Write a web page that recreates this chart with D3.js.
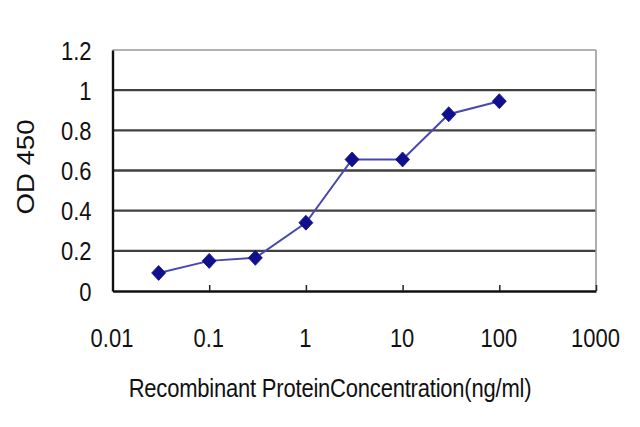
<!DOCTYPE html>
<html><head><meta charset="utf-8">
<script src="https://cdn.jsdelivr.net/npm/d3@7"></script>
<style>body{margin:0;background:#fff}svg{display:block}text{font-family:"Liberation Sans",Arial,sans-serif;fill:#111}</style>
</head><body>
<svg id="c" width="640" height="427"></svg>
<script>
const concentrations = [0.03, 0.1, 0.3, 1, 3, 10, 30, 100];
const odValues = [0.09, 0.15, 0.165, 0.34, 0.655, 0.655, 0.88, 0.945];
const xTickValues = [0.01, 0.1, 1, 10, 100, 1000];
const xTickLabels = ["0.01", "0.1", "1", "10", "100", "1000"];
const yTickValues = [0, 0.2, 0.4, 0.6, 0.8, 1, 1.2];
const yTickLabels = ["0", "0.2", "0.4", "0.6", "0.8", "1", "1.2"];
const xTitle = "Recombinant ProteinConcentration(ng/ml)";
const yTitle = "OD 450";

const svg = d3.select("#c");
const L = 112.5, R = 596, T = 50, B = 291;
const x = d3.scaleLog().domain([0.01, 1000]).range([L, R]);
const y = d3.scaleLinear().domain([0, 1.2]).range([B, T]);
const sy = 1.15, fs = 22;

// gridlines
svg.append("g").selectAll("line").data(yTickValues.filter(v => v > 0))
  .join("line")
  .attr("x1", L).attr("x2", R)
  .attr("y1", d => y(d)).attr("y2", d => y(d))
  .attr("stroke", d => d === 1.2 ? "#9a9a9a" : "#404040")
  .attr("stroke-width", d => d === 1.2 ? 1.6 : 2.4);
// right border
svg.append("line").attr("x1", R).attr("x2", R).attr("y1", T).attr("y2", B)
  .attr("stroke", "#9a9a9a").attr("stroke-width", 1.6);

// x axis
const xa = svg.append("g").attr("transform", `translate(0,${B})`)
  .call(d3.axisBottom(x).tickValues(xTickValues).tickSizeInner(-6).tickSizeOuter(0)
    .tickFormat((d, i) => xTickLabels[i]));
xa.select(".domain").attr("stroke", "#111").attr("stroke-width", 2.4);
xa.selectAll(".tick line").attr("stroke", "#222").attr("stroke-width", 1.5);
xa.selectAll(".tick text").attr("y", 0).attr("dy", 0)
  .attr("font-size", fs).attr("fill", "#111")
  .attr("transform", `translate(-1,56) scale(1,${sy})`)
  .style("font-family", "'Liberation Sans',Arial,sans-serif");

// y axis
const ya = svg.append("g").attr("transform", `translate(${L},0)`)
  .call(d3.axisLeft(y).tickValues(yTickValues).tickSize(0).tickSizeOuter(0)
    .tickFormat((d, i) => yTickLabels[i]));
ya.select(".domain").attr("stroke", "#111").attr("stroke-width", 2.4);
ya.selectAll(".tick text").attr("x", 0).attr("dy", "0.36em")
  .attr("font-size", fs).attr("fill", "#111")
  .attr("transform", `translate(-21,0) scale(1,${sy})`)
  .style("font-family", "'Liberation Sans',Arial,sans-serif");

// line
const line = d3.line().x(d => x(d[0])).y(d => y(d[1]));
const pts = concentrations.map((c, i) => [c, odValues[i]]);
svg.append("path").datum(pts).attr("d", line)
  .attr("fill", "none").attr("stroke", "#4848b0").attr("stroke-width", 2);

// markers
svg.append("g").selectAll("path").data(pts).join("path")
  .attr("transform", d => `translate(${x(d[0])},${y(d[1])})`)
  .attr("d", "M0,-7.5L7,0L0,7.5L-7,0Z")
  .attr("fill", "#10108a").attr("stroke", "#10108a").attr("stroke-width", 0.8);

// titles
svg.append("text").attr("transform", `translate(330,397) scale(1,${sy})`)
  .attr("text-anchor", "middle").attr("font-size", fs).attr("letter-spacing", -0.2)
  .text(xTitle);
svg.append("text").attr("transform", `translate(25,167) scale(1,${sy}) rotate(-90)`)
  .attr("text-anchor", "middle").attr("dy", "0.36em").attr("font-size", 24)
  .text(yTitle);
</script>
</body></html>
